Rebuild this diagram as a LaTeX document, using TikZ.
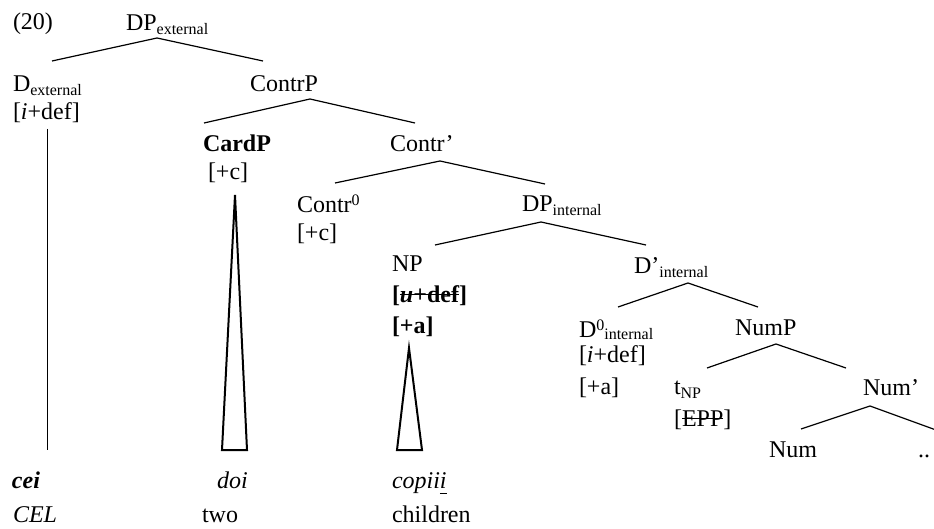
\documentclass[tikz,border=0pt]{standalone}
\usepackage{fontspec}
\setmainfont{Liberation Serif}
\usepackage{tikz}
% word-processor style sub/superscripts and strike/underline
\newcommand{\lsub}[2][4pt]{\raisebox{-#1}{\fontsize{16}{16}\selectfont #2}}
\newcommand{\lsup}[1]{\raisebox{7pt}{\fontsize{16}{16}\selectfont #1}}
\newcommand{\strk}[1]{\setbox0\hbox{#1}\rlap{\rule[7pt]{\wd0}{1.3pt}}\box0}
\newcommand{\undl}[1]{\setbox0\hbox{#1}\rlap{\rule[-6pt]{\wd0}{1.2pt}}\box0}

\begin{document}
\begin{tikzpicture}[
    x=1pt, y=-1pt,
    lab/.style={anchor=base west, inner sep=0pt, outer sep=0pt, font=\fontsize{24}{28}\selectfont},
    branch/.style={line width=1.2pt},
    roof/.style={line width=2pt, line join=miter}
]
\useasboundingbox (0,0) rectangle (934,529);

% Example number and root
\node[lab] (ex) at (13,30) {(20)};
\node[lab] (dpext) at (126,31) {DP\lsub{external}};

% Level 1
\node[lab] (dext) at (13,92) {D\lsub{external}};
\node[lab] (dextf) at ([shift={(0,28)}]dext.base west) {[\textit{i}+def]};
\node[lab] (contrp) at (250,92) {ContrP};

\draw[branch] ([shift={(39,-31)}]dext.base west) -- ([shift={(31,7)}]dpext.base west) -- ([shift={(13,-31)}]contrp.base west);

% Level 2
\node[lab, font=\fontsize{24}{28}\selectfont\bfseries] (cardp) at (203,152) {CardP};
\node[lab] (cardpf) at ([shift={(5,28)}]cardp.base west) {[+c]};
\node[lab] (contrbar) at (390,152) {Contr’};

\draw[branch] ([shift={(1,-29)}]cardp.base west) -- ([shift={(60,7)}]contrp.base west) -- ([shift={(25,-29)}]contrbar.base west);

% Level 3
\node[lab] (contr0) at (297,213) {Contr\lsup{0}};
\node[lab] (contr0f) at ([shift={(0,28)}]contr0.base west) {[+c]};
\node[lab] (dpint) at (522,212) {DP\lsub{internal}};

\draw[branch] ([shift={(38,-30)}]contr0.base west) -- ([shift={(50,9)}]contrbar.base west) -- ([shift={(23,-28)}]dpint.base west);

% Level 4
\node[lab] (np) at (392,272) {NP};
\node[lab, font=\fontsize{24}{28}\selectfont\bfseries] (npf1) at ([shift={(0,30)}]np.base west) {[\strk{\textit{u}+def}]};
\node[lab, font=\fontsize{24}{28}\selectfont\bfseries] (npf2) at ([shift={(0,31)}]npf1.base west) {[+a]};
\node[lab] (dbar) at (634,273) {D’\lsub{internal}};

\draw[branch] ([shift={(43,-27)}]np.base west) -- ([shift={(19,10)}]dpint.base west) -- ([shift={(12,-28)}]dbar.base west);

% Level 5
\node[lab] (d0) at (579,337) {D\lsup{0}\lsub[2pt]{internal}};
\node[lab] (d0f1) at ([shift={(0,25)}]d0.base west) {[\textit{i}+def]};
\node[lab] (d0f2) at ([shift={(0,32)}]d0f1.base west) {[+a]};
\node[lab] (nump) at (735,335) {NumP};

\draw[branch] ([shift={(39,-30)}]d0.base west) -- ([shift={(54,10)}]dbar.base west) -- ([shift={(23,-28)}]nump.base west);

% Level 6
\node[lab] (tnp) at (674,394) {t\lsub{NP}};
\node[lab] (tnpf) at ([shift={(0,32)}]tnp.base west) {[\strk{EPP}]};
\node[lab] (numbar) at (863,395) {Num’};

\draw[branch] ([shift={(33,-26)}]tnp.base west) -- ([shift={(41,9)}]nump.base west) -- ([shift={(-17,-27)}]numbar.base west);

% Level 7
\node[lab] (num) at (769,457) {Num};
\node[lab] (dots) at (918,457) {..};

\draw[branch] ([shift={(32,-28)}]num.base west) -- ([shift={(7,11)}]numbar.base west) -- ([shift={(18,-27)}]dots.base west);

% Words and glosses
\node[lab, font=\fontsize{24}{28}\selectfont\bfseries\itshape] (cei) at (12,488) {cei};
\node[lab, font=\fontsize{24}{28}\selectfont\itshape] (cel) at (13,522) {CEL};
\node[lab, font=\fontsize{24}{28}\selectfont\itshape] (doi) at (217,488) {doi};
\node[lab] (two) at (202,522) {two};
\node[lab, font=\fontsize{24}{28}\selectfont\itshape] (copiii) at (392,488) {copii\undl{i}};
\node[lab] (children) at (392,522) {children};

% Line and roofs down to the words
\draw[branch] ([shift={(34.5,9)}]dextf.base west) -- ([shift={(35.5,-38)}]cei.base west);
\draw[roof] ([shift={(27,15)}]cardpf.base west) -- ([shift={(5,-38)}]doi.base west) -- ([shift={(30,-38)}]doi.base west) -- cycle;
\draw[roof] ([shift={(17,15)}]npf2.base west) -- ([shift={(5,-38)}]copiii.base west) -- ([shift={(30,-38)}]copiii.base west) -- cycle;

\end{tikzpicture}
\end{document}
